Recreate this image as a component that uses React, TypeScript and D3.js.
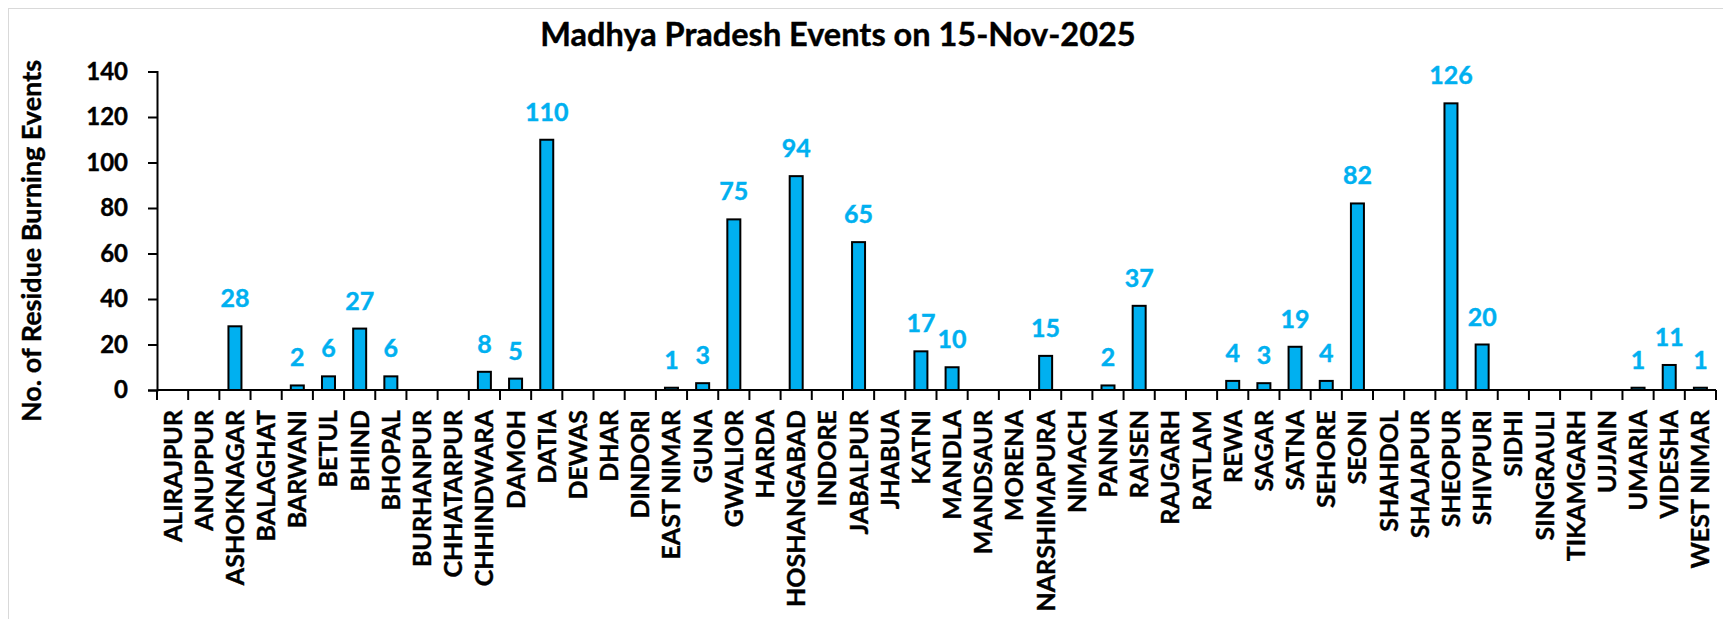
import React, { useEffect, useRef } from 'react';
import * as d3 from 'd3';

const districts = [
  "ALIRAJPUR", "ANUPPUR", "ASHOKNAGAR", "BALAGHAT", "BARWANI", "BETUL", "BHIND", "BHOPAL",
  "BURHANPUR", "CHHATARPUR", "CHHINDWARA", "DAMOH", "DATIA", "DEWAS", "DHAR", "DINDORI",
  "EAST NIMAR", "GUNA", "GWALIOR", "HARDA", "HOSHANGABAD", "INDORE", "JABALPUR", "JHABUA",
  "KATNI", "MANDLA", "MANDSAUR", "MORENA", "NARSHIMAPURA", "NIMACH", "PANNA", "RAISEN",
  "RAJGARH", "RATLAM", "REWA", "SAGAR", "SATNA", "SEHORE", "SEONI", "SHAHDOL",
  "SHAJAPUR", "SHEOPUR", "SHIVPURI", "SIDHI", "SINGRAULI", "TIKAMGARH", "UJJAIN", "UMARIA",
  "VIDESHA", "WEST NIMAR"
];

const events = [
  0, 0, 28, 0, 2, 6, 27, 6,
  0, 0, 8, 5, 110, 0, 0, 0,
  1, 3, 75, 0, 94, 0, 65, 0,
  17, 10, 0, 0, 15, 0, 2, 37,
  0, 0, 4, 3, 19, 4, 82, 0,
  0, 126, 20, 0, 0, 0, 0, 1,
  11, 1
];

const yTicks = [0, 20, 40, 60, 80, 100, 120, 140];

const title = "Madhya Pradesh Events on 15-Nov-2025";
const yTitle = "No. of Residue Burning Events";

const App = () => {
  const ref = useRef(null);

  useEffect(() => {
    const svgElement = d3.select(ref.current);
    svgElement.selectAll("*").remove();

    const font = "Lato, 'Open Sans', sans-serif";
    const left = 157, right = 1716, top = 71.5, bottom = 390;

    // page coordinates, the svg sits inside the 8px body margin
    const svg = svgElement.append("g").attr("transform", "translate(-8,-8)");

    svg.append("rect")
      .attr("x", 8.5).attr("y", 8.5)
      .attr("width", 1800).attr("height", 800)
      .attr("fill", "white")
      .attr("stroke", "#d9d9d9")
      .attr("stroke-width", 1);

    const x = d3.scaleBand()
      .domain(districts)
      .range([left, right])
      .paddingInner(0)
      .paddingOuter(0);

    const y = d3.scaleLinear()
      .domain([0, 140])
      .range([bottom, top]);

    const barW = 13;

    svg.selectAll(".bar")
      .data(events)
      .enter().append("rect")
      .attr("class", "bar")
      .attr("x", (d, i) => x(districts[i]) + x.bandwidth() / 2 - barW / 2)
      .attr("y", d => y(d))
      .attr("width", barW)
      .attr("height", d => bottom - y(d))
      .attr("fill", "#00b0f0")
      .attr("stroke", "#000")
      .attr("stroke-width", 2);

    svg.selectAll(".val")
      .data(events.map((v, i) => ({ v, name: districts[i] })).filter(d => d.v > 0))
      .enter().append("text")
      .attr("x", d => x(d.name) + x.bandwidth() / 2)
      .attr("y", d => y(d.v) - 19)
      .attr("text-anchor", "middle")
      .attr("fill", "#00b0f0")
      .attr("stroke", "#00b0f0")
      .attr("stroke-width", 0.4)
      .attr("font-family", font)
      .attr("font-weight", "bold")
      .attr("font-size", 25)
      .text(d => d.v);

    // y axis
    const yAxis = svg.append("g")
      .attr("transform", `translate(${left},0)`)
      .call(d3.axisLeft(y).tickValues(yTicks).tickSize(9).tickPadding(20));
    yAxis.select(".domain").attr("stroke", "#000").attr("stroke-width", 2);
    yAxis.selectAll(".tick line").attr("stroke", "#000").attr("stroke-width", 2);
    yAxis.selectAll(".tick text")
      .attr("font-family", font)
      .attr("font-weight", "bold")
      .attr("font-size", 24)
      .attr("fill", "#000")
      .attr("stroke", "#000")
      .attr("stroke-width", 0.4);

    // x axis with ticks on band edges
    const xAxis = svg.append("g")
      .attr("transform", `translate(0,${bottom})`);
    xAxis.append("line")
      .attr("x1", left).attr("x2", right)
      .attr("stroke", "#000").attr("stroke-width", 2);
    xAxis.selectAll(".edge")
      .data(d3.range(districts.length + 1))
      .enter().append("line")
      .attr("x1", i => left + i * x.step())
      .attr("x2", i => left + i * x.step())
      .attr("y1", 0).attr("y2", 10)
      .attr("stroke", "#000").attr("stroke-width", 2);
    xAxis.selectAll(".lbl")
      .data(districts)
      .enter().append("text")
      .attr("transform", d => `translate(${x(d) + x.bandwidth() / 2},20) rotate(-90)`)
      .attr("dy", "0.36em")
      .attr("text-anchor", "end")
      .attr("font-family", font)
      .attr("font-weight", "bold")
      .attr("font-size", 25)
      .attr("fill", "#000")
      .attr("stroke", "#000")
      .attr("stroke-width", 0.4)
      .text(d => d);

    svg.append("text")
      .attr("x", 838)
      .attr("y", 46)
      .attr("text-anchor", "middle")
      .attr("font-family", font)
      .attr("font-weight", "bold")
      .attr("font-size", 32.5)
      .attr("fill", "#000")
      .attr("stroke", "#000")
      .attr("stroke-width", 0.4)
      .text(title);

    svg.append("text")
      .attr("transform", "translate(41,241) rotate(-90)")
      .attr("text-anchor", "middle")
      .attr("font-family", font)
      .attr("font-weight", "bold")
      .attr("font-size", 27)
      .attr("fill", "#000")
      .attr("stroke", "#000")
      .attr("stroke-width", 0.4)
      .text(yTitle);
  }, []);

  return <svg ref={ref} width={1723} height={611} style={{ display: "block" }} />;
};

export default App;
